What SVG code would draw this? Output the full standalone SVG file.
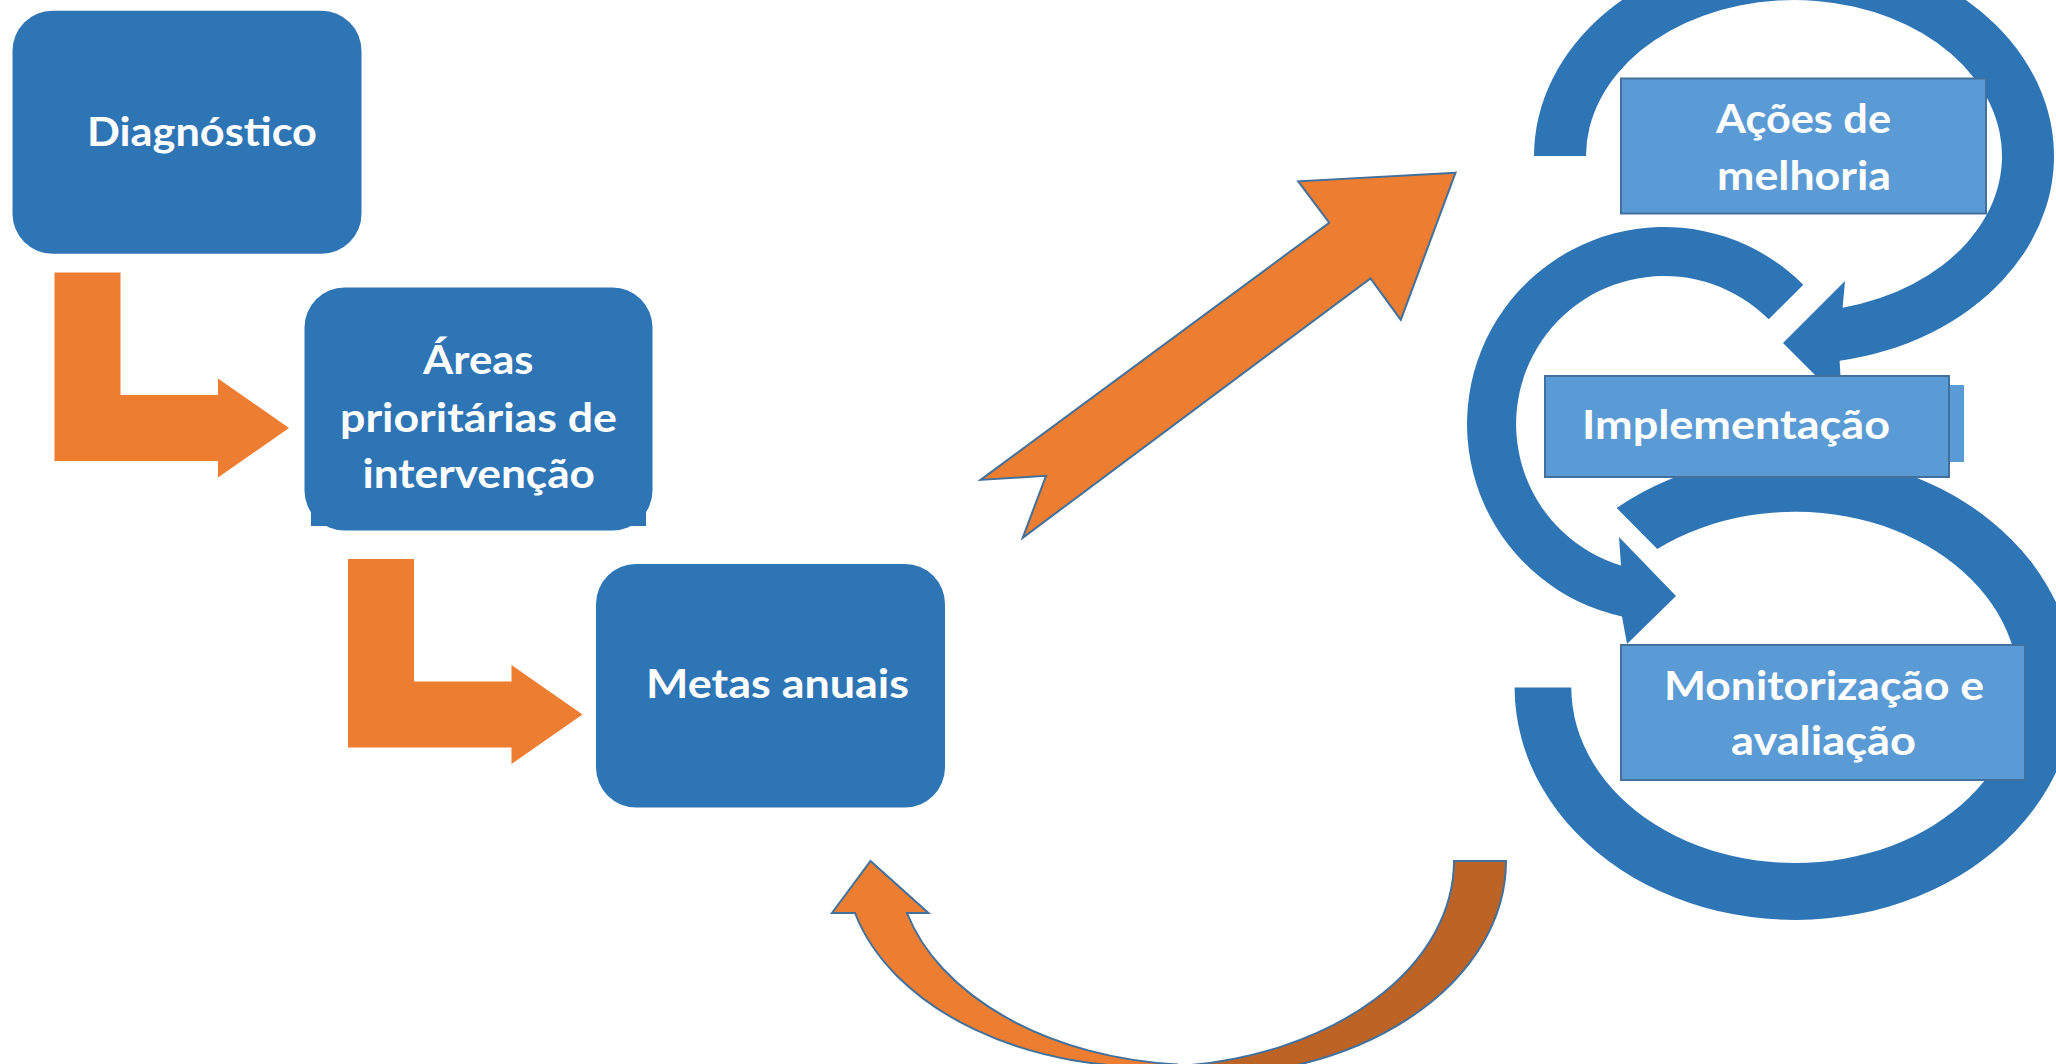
<svg xmlns="http://www.w3.org/2000/svg" width="2056" height="1064" viewBox="0 0 2056 1064">
<defs>
<style>
.node{fill:#2E75B6;}
.lbox{fill:#5B9BD5;stroke:#41719C;stroke-width:2;}
.ext{fill:#5B9BD5;}
.ring{fill:#2E75B6;}
.bent{fill:#ED7D31;}
.arr{fill:#ED7D31;stroke:#41719C;stroke-width:2;stroke-linejoin:miter;}
.back{fill:#BE6326;stroke:#41719C;stroke-width:2;}
.t{font-family:Lato,"Open Sans","Liberation Sans",sans-serif;font-weight:700;font-size:41px;fill:#FFFFFF;}
</style>
</defs>
<rect x="0" y="0" width="2056" height="1064" fill="#FFFFFF"/>
<g id="connectors">
<path id="bent1" class="bent" d="M54.5,272.5 L120.5,272.5 L120.5,395 L218,395 L218,378.5 L289,428 L218,477.5 L218,461 L54.5,461 Z"/>
<path id="bent2" class="bent" d="M348,559 L414,559 L414,681.5 L511.5,681.5 L511.5,665 L582.5,714.5 L511.5,764 L511.5,747.5 L348,747.5 Z"/>
<path id="diag" class="arr" d="M1455.6,172.7 L1298.2,181.3 L1329.2,222.7 L980.6,479.9 L1046,475.8 L1022.7,537.8 L1370.5,278.4 L1400.8,319.8 Z"/>
<path id="curve-back" class="back" d="M1454,861 L1506,861 A305 215 0 0 1 1177,1075.3 L1177,1066.1 A305 206 0 0 0 1454,861 Z"/>
<path id="curve-front" class="arr" d="M855,913 L832,913 L870.5,861 L928.5,913 L907,913 A305 204 0 0 0 1177,1064.4 L1177,1066.1 A305 206 0 0 1 855,913 Z"/>
<path id="ring1" class="ring" d="M1534,156 A260 208 0 1 1 1839.6,360.8 L1842,402 L1783,343 L1845,281 L1842.6,307.7 A208 156 0 1 0 1586,156 Z"/>
<path id="ring2" class="ring" d="M1803.3,284.7 A197 197 0 1 0 1622,616.5 L1627,644 L1676,596 L1619,537 L1621,565.6 A148 148 0 1 1 1768.7,319.3 Z"/>
<path id="ring3" class="ring" d="M1616.6,507.9 A280.4 232.6 0 1 1 1514.6,687.4 L1571.3,687.4 A223.7 175.6 0 1 0 1657.3,549 Z"/>
</g>
<g id="n-diagnostico">
<rect class="node" x="12.5" y="10.7" width="349" height="243" rx="40" ry="40"/>
<text class="t" x="87" y="146" textLength="230" lengthAdjust="spacingAndGlyphs">Diagnóstico</text>
</g>
<g id="n-areas">
<rect class="node" x="304.5" y="287.5" width="348" height="243" rx="40" ry="40"/>
<rect class="node" x="311" y="480" width="335" height="46"/>
<text class="t" x="423" y="374" textLength="110.5" lengthAdjust="spacingAndGlyphs">Áreas</text>
<text class="t" x="340" y="432" textLength="277" lengthAdjust="spacingAndGlyphs">prioritárias de</text>
<text class="t" x="362.5" y="488" textLength="232.5" lengthAdjust="spacingAndGlyphs">intervenção</text>
</g>
<g id="n-metas">
<rect class="node" x="596" y="564" width="349" height="243.5" rx="40" ry="40"/>
<text class="t" x="646" y="698" textLength="263" lengthAdjust="spacingAndGlyphs">Metas anuais</text>
</g>
<g id="n-acoes">
<rect class="lbox" x="1621" y="78.5" width="365" height="135"/>
<text class="t" x="1716" y="133" textLength="175" lengthAdjust="spacingAndGlyphs">Ações de</text>
<text class="t" x="1717" y="190" textLength="174" lengthAdjust="spacingAndGlyphs">melhoria</text>
</g>
<g id="n-implementacao">
<rect class="ext" x="1948" y="385" width="16" height="77"/>
<rect class="lbox" x="1545" y="376" width="404" height="101"/>
<text class="t" x="1582" y="438.5" textLength="308" lengthAdjust="spacingAndGlyphs">Implementação</text>
</g>
<g id="n-monitorizacao">
<rect class="lbox" x="1621" y="645" width="404" height="135"/>
<text class="t" x="1664" y="700" textLength="320" lengthAdjust="spacingAndGlyphs">Monitorização e</text>
<text class="t" x="1731" y="755" textLength="185" lengthAdjust="spacingAndGlyphs">avaliação</text>
</g>
</svg>
